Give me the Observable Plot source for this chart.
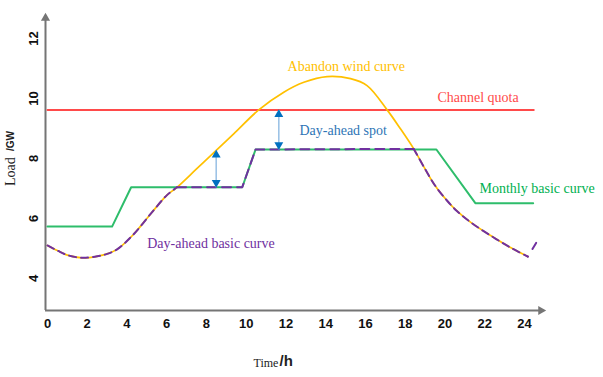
<!DOCTYPE html>
<html><head><meta charset="utf-8">
<script src="https://cdn.jsdelivr.net/npm/d3@7"></script>
<script src="https://cdn.jsdelivr.net/npm/@observablehq/plot@0.6"></script>
<style>body{margin:0;background:#fff} #chart svg{display:block}</style>
</head><body><div id="chart"></div>
<script>
// ---- data ----
const windHours = [0, 0.5, 1.0, 1.75, 2.5, 3.0, 3.5, 4.3, 5.2, 6.0, 6.52, 7.5, 8.49, 9.37, 10.63, 11.89, 12.9, 14.07, 15.25, 16.08, 17.09, 17.76, 18.43, 19.0, 19.5, 20.1, 20.6, 21.3, 22.3, 23.3, 24.17];
const windLoad  = [5.10, 4.93, 4.78, 4.69, 4.74, 4.82, 4.97, 5.45, 6.16, 6.77, 7.04, 7.65, 8.27, 8.82, 9.62, 10.21, 10.54, 10.73, 10.66, 10.43, 9.62, 8.99, 8.32, 7.65, 7.10, 6.60, 6.25, 5.87, 5.43, 5.03, 4.73];
const monthlyHours = [0, 3.25, 4.21, 9.8, 10.47, 19.57, 21.53, 24.44];
const monthlyLoad  = [5.73, 5.73, 7.04, 7.04, 8.3, 8.3, 6.51, 6.51];
const basicFlatHours = [6.52, 9.8, 10.47, 18.43];
const basicFlatLoad  = [7.04, 7.04, 8.3, 8.32];
const basicTailHours = [24.17, 24.6];
const basicTailLoad  = [4.73, 5.2];
const quotaHours = [0, 24.47];
const channelQuota = 9.62;
const spotHours = [8.49, 11.64];
const spotLow   = [7.04, 8.3];
const spotHigh  = [8.27, 9.62];
const xTicks = [0, 2, 4, 6, 8, 10, 12, 14, 16, 18, 20, 22, 24];
const yTicks = [4, 6, 8, 10, 12];
const labelText = ["Abandon wind curve", "Channel quota", "Day-ahead spot", "Monthly basic curve", "Day-ahead basic curve"];
const labelHour = [12.08, 19.62, 12.68, 21.74, 5.02];
const labelLoad = [11.07, 10.03, 8.93, 7.0, 5.18];

// ---- styles ----
const C = {wind: "#FFC000", month: "#2EBD6B", quota: "#FF4A4A", basic: "#7030A0", spot: "#0070C0", spotShaft: "#9DC3E6", axis: "#757575"};
const labelColor = ["#FFC000", "#FF4A4A", "#2E75B6", "#00B050", "#7030A0"];

const x0 = -0.1, x1 = 25.06, y0 = 2.933, y1 = 12.833;
const serif = "Liberation Serif, Times New Roman, serif";
const sans = "Liberation Sans, Arial, sans-serif";

const seg1 = windHours.map((t, i) => ({t, v: windLoad[i]})).filter(d => d.t <= 6.52);
const seg3 = windHours.map((t, i) => ({t, v: windLoad[i]})).filter(d => d.t >= 18.43);
const seg2 = basicFlatHours.map((t, i) => ({t, v: basicFlatLoad[i]}));
const seg4 = basicTailHours.map((t, i) => ({t, v: basicTailLoad[i]}));
const labels = labelText.map((s, i) => ({s, t: labelHour[i], v: labelLoad[i], c: labelColor[i]}));

const chart = Plot.plot({
  width: 603, height: 377,
  marginLeft: 45, marginRight: 58, marginTop: 13, marginBottom: 67,
  x: {domain: [x0, x1], axis: null},
  y: {domain: [y0, y1], axis: null},
  style: {background: "white", overflow: "visible"},
  marks: [
    // axes
    Plot.ruleX([x0], {y1: y0, y2: y1 - 0.12, stroke: C.axis, strokeWidth: 2}),
    Plot.ruleY([y0], {x1: x0, x2: x1 - 0.15, stroke: C.axis, strokeWidth: 2}),
    Plot.dot([0], {x: () => x0, y: () => y1, dy: 4.6, symbol: "triangle", r: 3.4, fill: C.axis, stroke: null}),
    Plot.dot([0], {x: () => x1, y: () => y0, dx: -4.6, rotate: 90, symbol: "triangle", r: 3.4, fill: C.axis, stroke: null}),
    Plot.text(xTicks, {x: d => d, frameAnchor: "bottom", dy: 17, textAnchor: "middle", text: d => String(d), fontWeight: "bold", fontSize: 13, fontFamily: sans, fill: "#111"}),
    Plot.text(yTicks, {y: d => d, frameAnchor: "left", dx: -12, rotate: -90, textAnchor: "middle", text: d => String(d), fontWeight: "bold", fontSize: 13, fontFamily: sans, fill: "#111"}),
    // axis titles
    Plot.text(["Load"], {frameAnchor: "left", dx: -35, dy: 24, rotate: -90, textAnchor: "start", fontSize: 14, fontFamily: serif, fill: "#222"}),
    Plot.text(["/GW"], {frameAnchor: "left", dx: -35, dy: -11, rotate: -90, textAnchor: "start", fontSize: 10, fontWeight: "bold", fontFamily: sans, fill: "#222"}),
    Plot.text(["Time"], {frameAnchor: "bottom", dx: -42, dy: 56, textAnchor: "start", fontSize: 12, fontFamily: serif, fill: "#222"}),
    Plot.text(["/h"], {frameAnchor: "bottom", dx: -16, dy: 55, textAnchor: "start", fontSize: 15, fontWeight: "bold", fontFamily: sans, fill: "#222"}),
    // channel quota
    Plot.line(quotaHours, {x: d => d, y: () => channelQuota, stroke: C.quota, strokeWidth: 2}),
    // monthly basic curve
    Plot.line(monthlyHours, {x: monthlyHours, y: monthlyLoad, stroke: C.month, strokeWidth: 2}),
    // abandon wind curve
    Plot.line(windHours, {x: windHours, y: windLoad, stroke: C.wind, strokeWidth: 1.7, curve: "catmull-rom"}),
    // day-ahead basic curve (dashed)
    Plot.line(seg1, {x: "t", y: "v", stroke: C.basic, strokeWidth: 2, strokeDasharray: "7,5", curve: "catmull-rom"}),
    Plot.line(seg2, {x: "t", y: "v", stroke: C.basic, strokeWidth: 2, strokeDasharray: "9,6"}),
    Plot.line(seg3, {x: "t", y: "v", stroke: C.basic, strokeWidth: 2, strokeDasharray: "7,5", curve: "catmull-rom"}),
    Plot.line(seg4, {x: "t", y: "v", stroke: C.basic, strokeWidth: 2, strokeDasharray: "0,9,7,10"}),
    // day-ahead spot arrows
    Plot.link(spotHours, {x1: spotHours, x2: spotHours, y1: spotLow, y2: spotHigh, stroke: C.spotShaft, strokeWidth: 1.6}),
    Plot.dot(spotHours, {x: spotHours, y: spotHigh, dy: 4.6, symbol: "triangle", r: 3.3, fill: C.spot, stroke: null}),
    Plot.dot(spotHours, {x: spotHours, y: spotLow, dy: -4.6, rotate: 180, symbol: "triangle", r: 3.3, fill: C.spot, stroke: null}),
    // labels
    Plot.text(labels, {x: "t", y: "v", text: "s", fill: "c", textAnchor: "start", fontSize: 14, fontFamily: serif})
  ]
});
document.getElementById("chart").append(chart);
</script>
</body></html>
